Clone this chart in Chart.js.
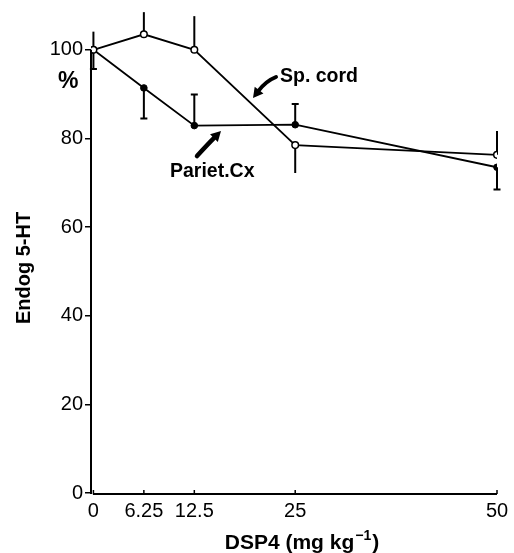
<!DOCTYPE html>
<html>
<head>
<meta charset="utf-8">
<script src="https://cdn.jsdelivr.net/npm/chart.js@4.4.1/dist/chart.umd.min.js"></script>
<style>
html,body{margin:0;padding:0;background:#fff;}
#wrap{width:514px;height:553px;position:relative;}
</style>
</head>
<body>
<div id="wrap"><canvas id="c" width="514" height="553"></canvas></div>
<script>
// ---- data ----
const doses = [0, 6.25, 12.5, 25, 50];
const spCord = [100, 103.5, 100, 78.5, 76.3];
const parietCx = [100, 91.4, 82.9, 83.1, 73.5];
const spCordErrEnd = [104.1, 108.5, 107.6, 72.2, 81.7];
const parietCxErrEnd = [95.7, 84.5, 89.9, 87.8, 68.5];
const xTicks = [0, 6.25, 12.5, 25, 50];
const yTicks = [0, 20, 40, 60, 80, 100];
const xTitle = 'DSP4 (mg kg';
const xTitleSup = '\u22121';
const yTitle = 'Endog 5-HT';
const yUnit = '%';
const labelSp = 'Sp. cord';
const labelPa = 'Pariet.Cx';

const FF = '"Liberation Sans", Arial, Helvetica, sans-serif';

function drawArrow(ctx, tail, ctrl, tip, headLen, headW, shaftW) {
  const dx = tip[0] - ctrl[0], dy = tip[1] - ctrl[1];
  const L = Math.hypot(dx, dy);
  const ux = dx / L, uy = dy / L;
  const bx = tip[0] - ux * headLen, by = tip[1] - uy * headLen;
  ctx.beginPath();
  ctx.lineWidth = shaftW;
  ctx.lineCap = 'round';
  ctx.moveTo(tail[0], tail[1]);
  ctx.quadraticCurveTo(ctrl[0], ctrl[1], bx + ux, by + uy);
  ctx.stroke();
  ctx.beginPath();
  ctx.moveTo(tip[0], tip[1]);
  ctx.lineTo(bx - uy * headW / 2, by + ux * headW / 2);
  ctx.lineTo(bx + uy * headW / 2, by - ux * headW / 2);
  ctx.closePath();
  ctx.fill();
}

const decor = {
  id: 'decor',
  beforeDatasetsDraw(chart) {
    const {ctx, scales: {x, y}} = chart;
    ctx.save();
    ctx.strokeStyle = '#000';
    ctx.lineWidth = 2;
    doses.forEach((d, i) => {
      const px = x.getPixelForValue(d);
      ctx.beginPath();
      ctx.moveTo(px, y.getPixelForValue(spCord[i]));
      ctx.lineTo(px, y.getPixelForValue(spCordErrEnd[i]));
      ctx.stroke();
      const pe = y.getPixelForValue(parietCxErrEnd[i]);
      ctx.beginPath();
      ctx.moveTo(px, y.getPixelForValue(parietCx[i]));
      ctx.lineTo(px, pe);
      ctx.moveTo(px - 3.5, pe);
      ctx.lineTo(px + 3.5, pe);
      ctx.stroke();
    });
    ctx.restore();
  },
  afterDraw(chart) {
    const {ctx, scales: {x, y}, chartArea} = chart;
    ctx.save();
    ctx.strokeStyle = '#000';
    ctx.fillStyle = '#000';
    // axes lines
    const y0 = y.getPixelForValue(0);
    ctx.lineWidth = 2;
    ctx.beginPath();
    ctx.moveTo(chartArea.left, y.getPixelForValue(100));
    ctx.lineTo(chartArea.left, y0 + 1);
    ctx.stroke();
    ctx.beginPath();
    ctx.moveTo(x.getPixelForValue(xTicks[0]) - 0.5, y0 + 1);
    ctx.lineTo(x.getPixelForValue(xTicks[xTicks.length - 1]), y0 + 1);
    ctx.stroke();
    ctx.lineWidth = 1.5;
    xTicks.forEach(v => {
      const px = x.getPixelForValue(v);
      ctx.beginPath();
      ctx.moveTo(px, y0 + 1);
      ctx.lineTo(px, y0 - 3);
      ctx.stroke();
    });
    // titles
    ctx.font = 'bold 21px ' + FF;
    ctx.textBaseline = 'alphabetic';
    ctx.textAlign = 'left';
    const mainW = ctx.measureText(xTitle).width;
    ctx.font = 'bold 14px ' + FF;
    const supW = ctx.measureText(xTitleSup).width;
    ctx.font = 'bold 21px ' + FF;
    const closeW = ctx.measureText(')').width;
    const total = mainW + supW + closeW + 2;
    let tx = 302 - total / 2;
    const tb = 549;
    ctx.fillText(xTitle, tx, tb);
    ctx.font = 'bold 14px ' + FF;
    ctx.fillText(xTitleSup, tx + mainW + 1, tb - 9);
    ctx.font = 'bold 21px ' + FF;
    ctx.fillText(')', tx + mainW + supW + 2, tb);

    ctx.save();
    ctx.translate(30, 268);
    ctx.rotate(-Math.PI / 2);
    ctx.font = 'bold 20px ' + FF;
    ctx.textAlign = 'center';
    ctx.fillText(yTitle, 0, 0);
    ctx.restore();

    ctx.font = 'bold 23px ' + FF;
    ctx.textAlign = 'left';
    ctx.fillText(yUnit, 58, 88);

    // annotations
    ctx.font = 'bold 19.5px ' + FF;
    ctx.fillText(labelSp, 280, 82);
    ctx.fillText(labelPa, 170, 177);
    drawArrow(ctx, [276, 77], [266, 81], [253, 98], 10, 11, 4);
    drawArrow(ctx, [197, 156], [207, 145], [221, 131], 10, 11, 4.5);
    ctx.restore();
  }
};

new Chart(document.getElementById('c'), {
  type: 'line',
  data: {
    datasets: [
      {
        label: labelSp,
        data: doses.map((d, i) => ({x: d, y: spCord[i]})),
        borderColor: '#000',
        borderWidth: 1.8,
        pointRadius: 3.3,
        pointBackgroundColor: '#fff',
        pointBorderColor: '#000',
        pointBorderWidth: 1.5,
        tension: 0
      },
      {
        label: labelPa,
        data: doses.map((d, i) => ({x: d, y: parietCx[i]})),
        borderColor: '#000',
        borderWidth: 1.8,
        pointRadius: 3.3,
        pointBackgroundColor: '#000',
        pointBorderColor: '#000',
        pointBorderWidth: 1,
        tension: 0
      }
    ]
  },
  options: {
    responsive: false,
    animation: false,
    layout: {padding: {left: 0, right: 17, top: 5, bottom: 0}},
    plugins: {legend: {display: false}, tooltip: {enabled: false}},
    scales: {
      x: {
        type: 'linear',
        min: -0.3,
        max: 50,
        grid: {display: false},
        border: {display: false},
        afterBuildTicks: s => { s.ticks = xTicks.map(v => ({value: v})); },
        afterFit: s => { s.height = 60; s.paddingLeft = 0; s.paddingRight = 0; },
        ticks: {
          color: '#000',
          font: {family: FF, size: 20},
          padding: -2,
          maxRotation: 0,
          autoSkip: false,
          callback: v => String(v)
        }
      },
      y: {
        type: 'linear',
        min: 0,
        max: 110,
        grid: {display: true, drawOnChartArea: false, drawTicks: true, tickLength: 6, color: '#000', lineWidth: 1.5},
        border: {display: false},
        afterBuildTicks: s => { s.ticks = yTicks.map(v => ({value: v})); },
        afterFit: s => { s.width = 91; s.paddingTop = 0; s.paddingBottom = 0; },
        ticks: {
          color: '#000',
          font: {family: FF, size: 20},
          padding: 2,
          callback: v => String(v)
        }
      }
    }
  },
  plugins: [decor]
});
</script>
</body>
</html>
